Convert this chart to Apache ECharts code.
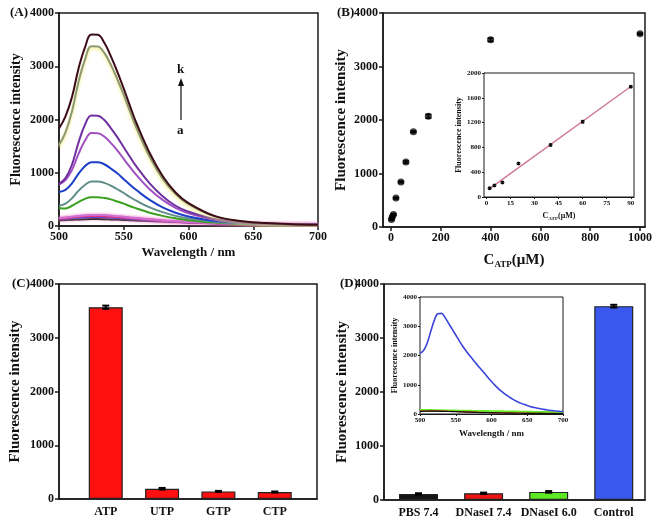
<!DOCTYPE html>
<html><head><meta charset="utf-8">
<script src="https://cdn.jsdelivr.net/npm/echarts@6/dist/echarts.min.js"></script>
<style>html,body{margin:0;padding:0;background:#fff}#c{width:661px;height:527px}</style>
</head><body><div id="c"></div>
<script>
// ---- Panel A: spectra a..k ----
const wlA = [500,505,510,515,520,525,530,535,540,545,550,555,560,570,580,590,600,620,640,660,680,700];
const curveA_a = [110,112,118,124,128,130,130,128,124,120,115,110,105,95,84,74,65,50,40,33,28,24];
const curveA_b = [130,140,150,160,166,170,170,167,160,152,145,135,127,110,93,80,68,50,38,32,27,23];
const curveA_c = [140,150,165,178,186,190,190,186,180,170,160,150,140,120,100,85,72,52,40,33,28,24];
const curveA_d = [150,160,175,190,200,208,208,205,195,185,175,160,150,125,105,90,75,55,42,35,30,25];
const curveA_e = [340,330,380,450,510,538,538,525,500,460,420,370,330,250,190,145,110,65,42,32,25,20];
const curveA_f = [380,420,520,660,770,835,835,810,760,690,620,540,470,350,260,190,140,80,48,35,26,20];
const curveA_g = [640,680,800,980,1120,1198,1195,1160,1080,990,880,770,670,490,350,250,180,95,55,38,28,22];
const curveA_h = [780,860,1050,1350,1600,1745,1740,1680,1560,1420,1260,1100,950,690,490,340,240,120,65,42,30,24];
const curveA_i = [790,900,1150,1560,1900,2075,2070,1990,1840,1670,1480,1290,1110,800,560,380,270,130,70,45,32,25];
const curveA_j = [1520,1760,2150,2700,3120,3375,3370,3250,3030,2760,2460,2140,1830,1300,890,600,410,180,90,52,33,24];
const curveA_k = [1830,2060,2420,2950,3350,3595,3590,3440,3190,2900,2580,2240,1920,1370,940,630,430,190,95,55,35,25];
const namesA = ['a','b','c','d','e','f','g','h','i','j','k'];
const colorsA = ['#222222','#2a2ad0','#e0206a','#d070d0','#3aa020','#5e8e86','#1c3ec8','#a050c0','#7030a0','#8c9870','#3c0c18'];

// ---- Panel B: calibration ----
const concB = [2,5,10,20,40,60,90,150,400,1000];
const intB  = [140,185,235,540,840,1215,1780,2070,3500,3610];
const errB  = [15,15,15,15,15,20,15,35,30,15];
const insetCount = 7; // points with C <= 90 uM used in the linear inset

// ---- Panel C: selectivity ----
const catsC = ['ATP','UTP','GTP','CTP'];
const valC  = [3568,191,141,130];
const errC  = [30,15,10,10];

// ---- Panel D: DNase I ----
const catsD = ['PBS 7.4','DNaseI 7.4','DNaseI 6.0','Control'];
const valD  = [110,125,150,3590];
const errD  = [15,12,15,25];
const colorsD = ['#141414','#ee1414','#5ee824','#3a58ee'];
const wlD5 = [500,505,510,515,520,525,530,535,540,545,550,555,560,565,570,575,580,585,590,595,600,605,610,615,620,625,630,635,640,645,650,655,660,665,670,675,680,685,690,695,700];
const insetD_blue = [2080,2170,2420,2820,3200,3430,3440,3300,3100,2900,2700,2500,2310,2140,1980,1830,1680,1540,1400,1250,1110,980,860,755,660,575,500,435,380,330,290,250,220,195,170,150,130,115,100,90,80];
const wlD10 = [500,510,520,530,540,550,560,570,580,590,600,610,620,630,640,650,660,670,680,690,700];
const insetD_green = [130,128,122,118,112,108,104,100,96,92,88,84,80,76,72,68,64,60,56,52,48];
const insetD_red   = [100,103,104,101,94,86,78,70,62,55,48,43,38,34,30,27,24,22,20,18,17];
const insetD_black = [90,95,96,93,86,78,70,62,54,47,41,36,32,28,25,22,20,18,16,15,14];

const FF = '"Liberation Serif","Times New Roman",serif';
const AX = '#1a1a1a';

function axisBase(opts){
  const o = {
    gridIndex: opts.grid, type: opts.type || 'value',
    min: opts.min, max: opts.max,
    axisLine: {show:true, onZero:false, lineStyle:{color:AX, width: opts.lw || 1.5}},
    axisTick: {show: opts.tick !== false, inside:false, length: opts.tl || 4, lineStyle:{color:AX, width: opts.lw || 1.5}},
    splitLine: {show:false},
    axisLabel: {fontFamily:FF, fontWeight:'bold', fontSize: opts.fs || 12, color:'#111', margin: opts.lm || 5,
                formatter: opts.formatter || (v => String(v))},
    name: opts.name || '', nameLocation:'middle', nameGap: opts.ng || 20,
    nameTextStyle: {fontFamily:FF, fontWeight:'bold', fontSize: opts.nfs || 13, color:'#111', rich: opts.rich}
  };
  if (opts.interval !== undefined) o.interval = opts.interval;
  if (opts.custom) { o.axisLabel.customValues = opts.custom; o.axisTick.customValues = opts.custom; }
  return o;
}

function errSeries(xi, yi, xs, ys, es, capW, lw){
  return {
    type:'custom', xAxisIndex:xi, yAxisIndex:yi, z:6, silent:true,
    data: xs.map((x,k)=>[x, ys[k], es[k]]),
    renderItem: function(params, api){
      const x = api.value(0), y = api.value(1), e = api.value(2);
      const t = api.coord([x, y+e]), b = api.coord([x, y-e]);
      const st = {stroke:'#000', lineWidth: lw};
      return {type:'group', children:[
        {type:'line', shape:{x1:t[0],y1:t[1],x2:b[0],y2:b[1]}, style:st},
        {type:'line', shape:{x1:t[0]-capW/2,y1:t[1],x2:t[0]+capW/2,y2:t[1]}, style:st},
        {type:'line', shape:{x1:b[0]-capW/2,y1:b[1],x2:b[0]+capW/2,y2:b[1]}, style:st}
      ]};
    }
  };
}

// linear fit for the inset
const fx = concB.slice(0, insetCount), fy = intB.slice(0, insetCount);
const n = fx.length, mx = fx.reduce((s,v)=>s+v,0)/n, my = fy.reduce((s,v)=>s+v,0)/n;
let sxy=0, sxx=0; for (let k=0;k<n;k++){ sxy += (fx[k]-mx)*(fy[k]-my); sxx += (fx[k]-mx)*(fx[k]-mx); }
const slope = sxy/sxx, icpt = my - slope*mx;
const fitLine = [fx[0], fx[n-1]].map(x=>[x, icpt + slope*x]);

const gridStyle = {show:true, borderColor:AX, borderWidth:1.5, backgroundColor:'#fff'};
const grids = [
  Object.assign({left:59, top:13, width:259, height:213}, gridStyle),
  Object.assign({left:383, top:13, width:262, height:214}, gridStyle),
  Object.assign({left:484, top:73, width:150, height:124, z:3}, gridStyle, {borderWidth:1}),
  Object.assign({left:59, top:284, width:258, height:215}, gridStyle),
  Object.assign({left:384, top:284, width:261, height:216}, gridStyle),
  Object.assign({left:420, top:297, width:143, height:117, z:3}, gridStyle, {borderWidth:1})
];

const subRich = {a:{fontFamily:FF, fontWeight:'bold', fontSize:15, color:'#111'},
                 s:{fontFamily:FF, fontWeight:'bold', fontSize:9, color:'#111', padding:[9,0,0,0]}};
const subRichSmall = {a:{fontFamily:FF, fontWeight:'bold', fontSize:8, color:'#111'},
                 s:{fontFamily:FF, fontWeight:'bold', fontSize:5, color:'#111', padding:[5,0,0,0]}};

const xAxes = [
  axisBase({grid:0, min:500, max:700, interval:50, name:'Wavelength / nm', ng:20, nfs:13}),
  axisBase({grid:1, min:-32, max:1020, custom:[0,200,400,600,800,1000], name:'{a|C}{s|ATP}{a|(μM)}', ng:24, rich:subRich}),
  axisBase({grid:2, min:-1.5, max:92, custom:[0,15,30,45,60,75,90], fs:7, lm:3, tl:2, lw:1, name:'{a|C}{s|ATP}{a|(μM)}', ng:14, rich:subRichSmall}),
  axisBase({grid:3, min:0.17, max:4.75, custom:[1,2,3,4], tick:false, fs:12, lm:7, formatter:v=>catsC[Math.round(v)-1]}),
  axisBase({grid:4, min:0.47, max:4.48, custom:[1,2,3,4], tick:false, fs:12, lm:7, formatter:v=>catsD[Math.round(v)-1]}),
  axisBase({grid:5, min:500, max:700, interval:50, fs:7, lm:3, tl:2, lw:1, name:'Wavelength / nm', ng:15, nfs:9})
];
const yAxes = [
  axisBase({grid:0, min:0, max:4000, interval:1000, name:'Fluorescence intensity', ng:36, nfs:14}),
  axisBase({grid:1, min:0, max:4000, interval:1000, name:'Fluorescence intensity', ng:34, nfs:15}),
  axisBase({grid:2, min:0, max:2000, interval:400, fs:7, lm:3, tl:2, lw:1, name:'Fluorescence intensity', ng:20, nfs:8}),
  axisBase({grid:3, min:0, max:4000, interval:1000, name:'Fluorescence intensity', ng:36, nfs:15}),
  axisBase({grid:4, min:0, max:4000, interval:1000, name:'Fluorescence intensity', ng:34, nfs:15}),
  axisBase({grid:5, min:0, max:4000, interval:1000, fs:7, lm:3, tl:2, lw:1, name:'Fluorescence intensity', ng:18, nfs:8})
];

const series = [];
const curvesA = [curveA_a,curveA_b,curveA_c,curveA_d,curveA_e,curveA_f,curveA_g,curveA_h,curveA_i,curveA_j,curveA_k];
curvesA.forEach((cv, k)=>{
  const ls = {color: colorsA[k], width: 2};
  if (k === 9) { ls.shadowColor = 'rgba(245,235,120,0.9)'; ls.shadowBlur = 3; ls.shadowOffsetY = 2; }
  if (k < 4) { ls.shadowColor = 'rgba(240,120,200,0.7)'; ls.shadowBlur = 3; }
  series.push({type:'line', name:namesA[k], xAxisIndex:0, yAxisIndex:0, smooth:0.4, showSymbol:false,
    lineStyle: ls, data: wlA.map((w,q)=>[w, cv[q]])});
});

// Panel B
series.push({type:'scatter', xAxisIndex:1, yAxisIndex:1, symbol:'circle', symbolSize:7,
  itemStyle:{color:'#111'}, data: concB.map((c,k)=>[c, intB[k]])});
series.push(errSeries(1,1,concB,intB,errB,6,1.5));
series.push({type:'line', xAxisIndex:2, yAxisIndex:2, showSymbol:false, z:4,
  lineStyle:{color:'#d07a92', width:1.5}, data: fitLine});
series.push({type:'scatter', xAxisIndex:2, yAxisIndex:2, symbol:'circle', symbolSize:4, z:5,
  itemStyle:{color:'#111'}, data: fx.map((c,k)=>[c, fy[k]])});
series.push(errSeries(2,2,fx,fy,errB.slice(0,insetCount),3,1));

// Panel C
series.push({type:'bar', xAxisIndex:3, yAxisIndex:3, barWidth:34,
  itemStyle:{color:'#fe1010', borderColor:'#222', borderWidth:1.2},
  data: valC.map((v,k)=>[k+1, v])});
series.push(errSeries(3,3,valC.map((v,k)=>k+1),valC,errC,7,2));

// Panel D
series.push({type:'bar', xAxisIndex:4, yAxisIndex:4, barWidth:39,
  itemStyle:{borderColor:'#222', borderWidth:1.2},
  data: valD.map((v,k)=>({value:[k+1, v], itemStyle:{color:colorsD[k]}}))});
series.push(errSeries(4,4,valD.map((v,k)=>k+1),valD,errD,7,2));
[[wlD10,insetD_green,'#66ee22',2.5],[wlD10,insetD_red,'#dd2222',1.2],[wlD10,insetD_black,'#111111',1.2],[wlD5,insetD_blue,'#3a44d8',1.6]].forEach(([xs,cv,col,w])=>{
  series.push({type:'line', xAxisIndex:5, yAxisIndex:5, smooth:0.4, showSymbol:false, z:4,
    lineStyle:{color:col, width:w}, data: xs.map((x,q)=>[x, cv[q]])});
});

const txt = (t, x, y, fs) => ({type:'text', left:x, top:y, z:10,
  style:{text:t, font:'bold '+fs+'px '+FF, fill:'#111'}});
const graphic = [
  txt('(A)', 10, 6, 13), txt('(B)', 337, 6, 13), txt('(C)', 12, 277, 13), txt('(D)', 340, 277, 13),
  txt('k', 177, 63, 13), txt('a', 177, 124, 13),
  {type:'line', z:10, shape:{x1:181, y1:120, x2:181, y2:84}, style:{stroke:'#111', lineWidth:1.2}},
  {type:'polygon', z:10, shape:{points:[[178,86],[184,86],[181,78]]}, style:{fill:'#111'}}
];

const chart = echarts.init(document.getElementById('c'), null, {renderer:'canvas'});
chart.setOption({animation:false, backgroundColor:'#fff', grid:grids, xAxis:xAxes, yAxis:yAxes, series:series, graphic:graphic});
</script></body></html>
